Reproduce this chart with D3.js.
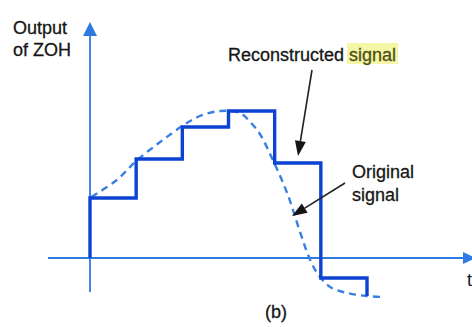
<!DOCTYPE html>
<html>
<head>
<meta charset="utf-8">
<script src="https://cdn.jsdelivr.net/npm/d3@7"></script>
<style>
  html, body { margin: 0; padding: 0; background: #ffffff; }
  svg { display: block; }
  text { font-family: "Liberation Sans", Arial, sans-serif; }
</style>
</head>
<body>
<svg id="chart" width="472" height="327"></svg>
<script>
// ---- Data ----
// Sampling instants (multiples of T) and the zero-order-hold output values
const sampleTimes = [0, 1, 2, 3, 4, 5, 6];
const zohValues   = [6.0, 9.9, 13.1, 14.7, 9.5, -2.0, -3.8];

// Original continuous signal, traced points
const originalT = [0.03, 0.58, 1.0, 1.52, 2.0, 2.38, 2.82, 3.25, 3.47, 3.68, 3.96, 4.27, 4.55, 4.76, 4.92, 5.2, 5.57, 6.0, 6.35];
const originalV = [6.1, 7.8, 9.7, 11.6, 13.2, 14.2, 14.7, 14.5, 13.6, 12.4, 9.8, 6.5, 2.6, -0.1, -1.5, -2.9, -3.5, -3.8, -3.9];

// Text labels
const yAxisLabel = ["Output", "of ZOH"];
const reconLabel = ["Reconstructed ", "signal"];
const origLabel  = ["Original", "signal"];
const captionLabel = "(b)";
const xAxisLabel = "t";

// ---- Drawing ----
const svg = d3.select("#chart");
const x = d3.scaleLinear().domain([0, 6]).range([90, 367]);
const y = d3.scaleLinear().domain([0, 10]).range([258, 158]);

const axisColor = "#2f7ae0";
const stairColor = "#0d43d2";
const dashColor = "#3a80e2";
const textColor = "#161616";

// Horizontal axis
const hx0 = x(-0.91), hx1 = x(8.08);
svg.append("line")
  .attr("x1", hx0).attr("x2", hx1)
  .attr("y1", y(0)).attr("y2", y(0))
  .attr("stroke", axisColor).attr("stroke-width", 1.8);
svg.append("path")
  .attr("d", `M${hx1 + 13},${y(0)} L${hx1},${y(0) - 6} L${hx1},${y(0) + 6} Z`)
  .attr("fill", axisColor);

// Vertical axis
const vy0 = y(-3.4), vyTop = y(23.6);
svg.append("line")
  .attr("x1", x(0)).attr("x2", x(0))
  .attr("y1", vy0).attr("y2", vyTop + 12)
  .attr("stroke", axisColor).attr("stroke-width", 1.8);
svg.append("path")
  .attr("d", `M${x(0)},${vyTop} L${x(0) - 7},${vyTop + 14} L${x(0) + 7},${vyTop + 14} Z`)
  .attr("fill", axisColor);

// Original signal (dashed)
const origPts = originalT.map((t, i) => [t, originalV[i]]);
svg.append("path")
  .datum(origPts)
  .attr("d", d3.line().x(d => x(d[0])).y(d => y(d[1])).curve(d3.curveCatmullRom.alpha(0.5)))
  .attr("fill", "none")
  .attr("stroke", dashColor)
  .attr("stroke-width", 2.4)
  .attr("stroke-dasharray", "7,5");

// ZOH staircase
const stairPts = [[sampleTimes[0], 0]];
for (let i = 0; i < sampleTimes.length - 1; i++) {
  stairPts.push([sampleTimes[i], zohValues[i]]);
  stairPts.push([sampleTimes[i + 1], zohValues[i]]);
}
stairPts.push([sampleTimes[sampleTimes.length - 1], zohValues[zohValues.length - 1]]);
svg.append("path")
  .datum(stairPts)
  .attr("d", d3.line().x(d => x(d[0])).y(d => y(d[1])))
  .attr("fill", "none")
  .attr("stroke", stairColor)
  .attr("stroke-width", 3.4)
  .attr("stroke-linejoin", "miter");

// Annotation arrows
function arrow(x1, y1, x2, y2) {
  const ang = Math.atan2(y2 - y1, x2 - x1);
  const len = 15, hw = 5.5;
  const bx = x2 - len * Math.cos(ang), by = y2 - len * Math.sin(ang);
  svg.append("line")
    .attr("x1", x1).attr("y1", y1).attr("x2", bx).attr("y2", by)
    .attr("stroke", "#222").attr("stroke-width", 1.6);
  const px = -Math.sin(ang) * hw, py = Math.cos(ang) * hw;
  svg.append("path")
    .attr("d", `M${x2},${y2} L${bx + px},${by + py} L${bx - px},${by - py} Z`)
    .attr("fill", "#151515");
}
arrow(312, 70, 298, 156);
arrow(345, 183, 292, 216);

// Text
const fs = 18;
const yl = svg.append("text").attr("font-size", fs).attr("fill", textColor)
  .attr("stroke", textColor).attr("stroke-width", 0.3);
yl.append("tspan").attr("x", 13).attr("y", 34).text(yAxisLabel[0]);
yl.append("tspan").attr("x", 13).attr("y", 56).text(yAxisLabel[1]);

// Reconstructed signal label with highlight
const hl = svg.append("rect").attr("fill", "#f6f7a6");
const rl = svg.append("text").attr("x", 228).attr("y", 61).attr("font-size", fs)
  .attr("fill", textColor).attr("stroke", textColor).attr("stroke-width", 0.3);
rl.append("tspan").text(reconLabel[0]);
rl.append("tspan").attr("fill", "#4e4e18").attr("stroke", "#4e4e18").text(reconLabel[1]);
const node = rl.node();
const startIdx = reconLabel[0].length;
const sp = node.getStartPositionOfChar(startIdx);
const sw = node.getSubStringLength(startIdx, reconLabel[1].length);
hl.attr("x", sp.x - 2).attr("y", 43).attr("width", sw + 4).attr("height", 21);

const ol = svg.append("text").attr("font-size", fs).attr("fill", textColor)
  .attr("stroke", textColor).attr("stroke-width", 0.3);
ol.append("tspan").attr("x", 352).attr("y", 178).text(origLabel[0]);
ol.append("tspan").attr("x", 352).attr("y", 201).text(origLabel[1]);

svg.append("text").attr("x", 276).attr("y", 318).attr("font-size", fs)
  .attr("text-anchor", "middle").attr("fill", textColor)
  .attr("stroke", textColor).attr("stroke-width", 0.3)
  .text(captionLabel);

svg.append("text").attr("x", 467).attr("y", 286).attr("font-size", fs)
  .attr("fill", textColor).text(xAxisLabel);
</script>
</body>
</html>
